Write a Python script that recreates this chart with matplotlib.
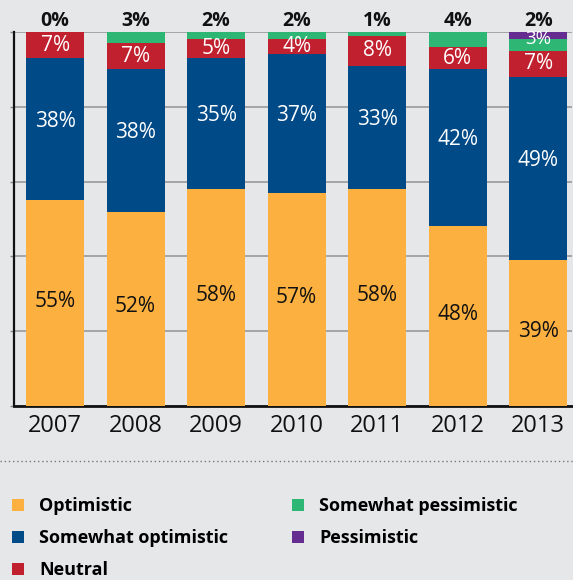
import numpy as np
import matplotlib.pyplot as plt
from matplotlib.lines import Line2D
from matplotlib.patches import Patch

plt.rcParams['font.family'] = ['Open Sans', 'DejaVu Sans']

# survey years and the share of answers per category (in %)
years = ['2007', '2008', '2009', '2010', '2011', '2012', '2013']
optimistic = [55, 52, 58, 57, 58, 48, 39]
somewhat_optimistic = [38, 38, 35, 37, 33, 42, 49]
neutral = [7, 7, 5, 4, 8, 6, 7]
somewhat_pessimistic = [0, 3, 2, 2, 1, 4, 3]
pessimistic = [0, 0, 0, 0, 0, 0, 2]

labels = ['Optimistic', 'Somewhat optimistic', 'Neutral',
          'Somewhat pessimistic', 'Pessimistic']
colors = ['#fbb040', '#004a87', '#c1202f', '#2db674', '#662d91']
text_colors = ['#111111', 'white', 'white', 'white', 'white']
# vertical nudge of the value labels (in % units) and their size
label_shift = [0.5, 2.2, 0, 1.5, 0]
label_size = [15, 15, 15, 13.5, 15]

BG = '#e6e7e9'

series = [optimistic, somewhat_optimistic, neutral,
          somewhat_pessimistic, pessimistic]

fig = plt.figure(figsize=(5.73, 5.80), dpi=100, facecolor=BG)
ax = fig.add_axes([14 / 573, 1 - 406 / 580, 558 / 573, 374 / 580])
ax.set_facecolor(BG)

x = np.arange(len(years))
width = 0.72
bottom = np.zeros(len(years))

for values, color, tcolor, shift, size, name in zip(
        series, colors, text_colors, label_shift, label_size, labels):
    values = np.array(values, dtype=float)
    ax.bar(x, values, width, bottom=bottom, color=color, zorder=3, label=name)
    for i, v in enumerate(values):
        # small top segments are labelled above the bar instead of inside
        inside = v > 0 and (name in labels[:3] or
                            (name == 'Somewhat pessimistic' and pessimistic[i] > 0))
        if inside:
            ax.text(x[i], bottom[i] + v / 2 + shift, '%d%%' % v, ha='center',
                    va='center', color=tcolor, fontsize=size, zorder=4)
    bottom += values

# value of the uppermost category written above each bar
for i in range(len(years)):
    top = pessimistic[i] if pessimistic[i] > 0 else somewhat_pessimistic[i]
    ax.text(x[i], 103.0, '%d%%' % top, ha='center', va='center',
            color='#111111', fontsize=14, fontweight='bold', clip_on=False)

ax.set_ylim(0, 100)
ax.set_xlim(-0.51, 6.42)
ax.set_yticks(np.arange(0, 101, 20))
ax.set_yticklabels([])
ax.tick_params(axis='y', length=3, width=1, color='#888888', direction='out')
ax.grid(axis='y', color='#9a9a9a', linewidth=1.2, zorder=0)
ax.set_xticks(x)
ax.set_xticklabels(years, fontsize=17, color='#111111')
ax.tick_params(axis='x', length=0, pad=6)

for side in ['top', 'right']:
    ax.spines[side].set_visible(False)
ax.spines['left'].set_linewidth(1.6)
ax.spines['bottom'].set_linewidth(2)
ax.spines['left'].set_color('#111111')
ax.spines['bottom'].set_color('#111111')

# dotted separator between chart and legend
fig.add_artist(Line2D([0, 1], [1 - 461 / 580] * 2, transform=fig.transFigure,
                      color='#777777', linestyle=(0, (1, 2)), linewidth=1))

handles = [Patch(facecolor=c, edgecolor='none') for c in colors]
fig.legend(handles, labels, loc='upper left', ncol=2,
           bbox_to_anchor=(12 / 573, 1 - 497 / 580), frameon=False,
           prop={'size': 13, 'weight': 'bold'}, handlelength=0.65,
           handleheight=0.65, handletextpad=0.85, columnspacing=3.55,
           labelspacing=0.78, borderpad=0, borderaxespad=0)

fig.savefig('out.png', dpi=100, facecolor=BG)
